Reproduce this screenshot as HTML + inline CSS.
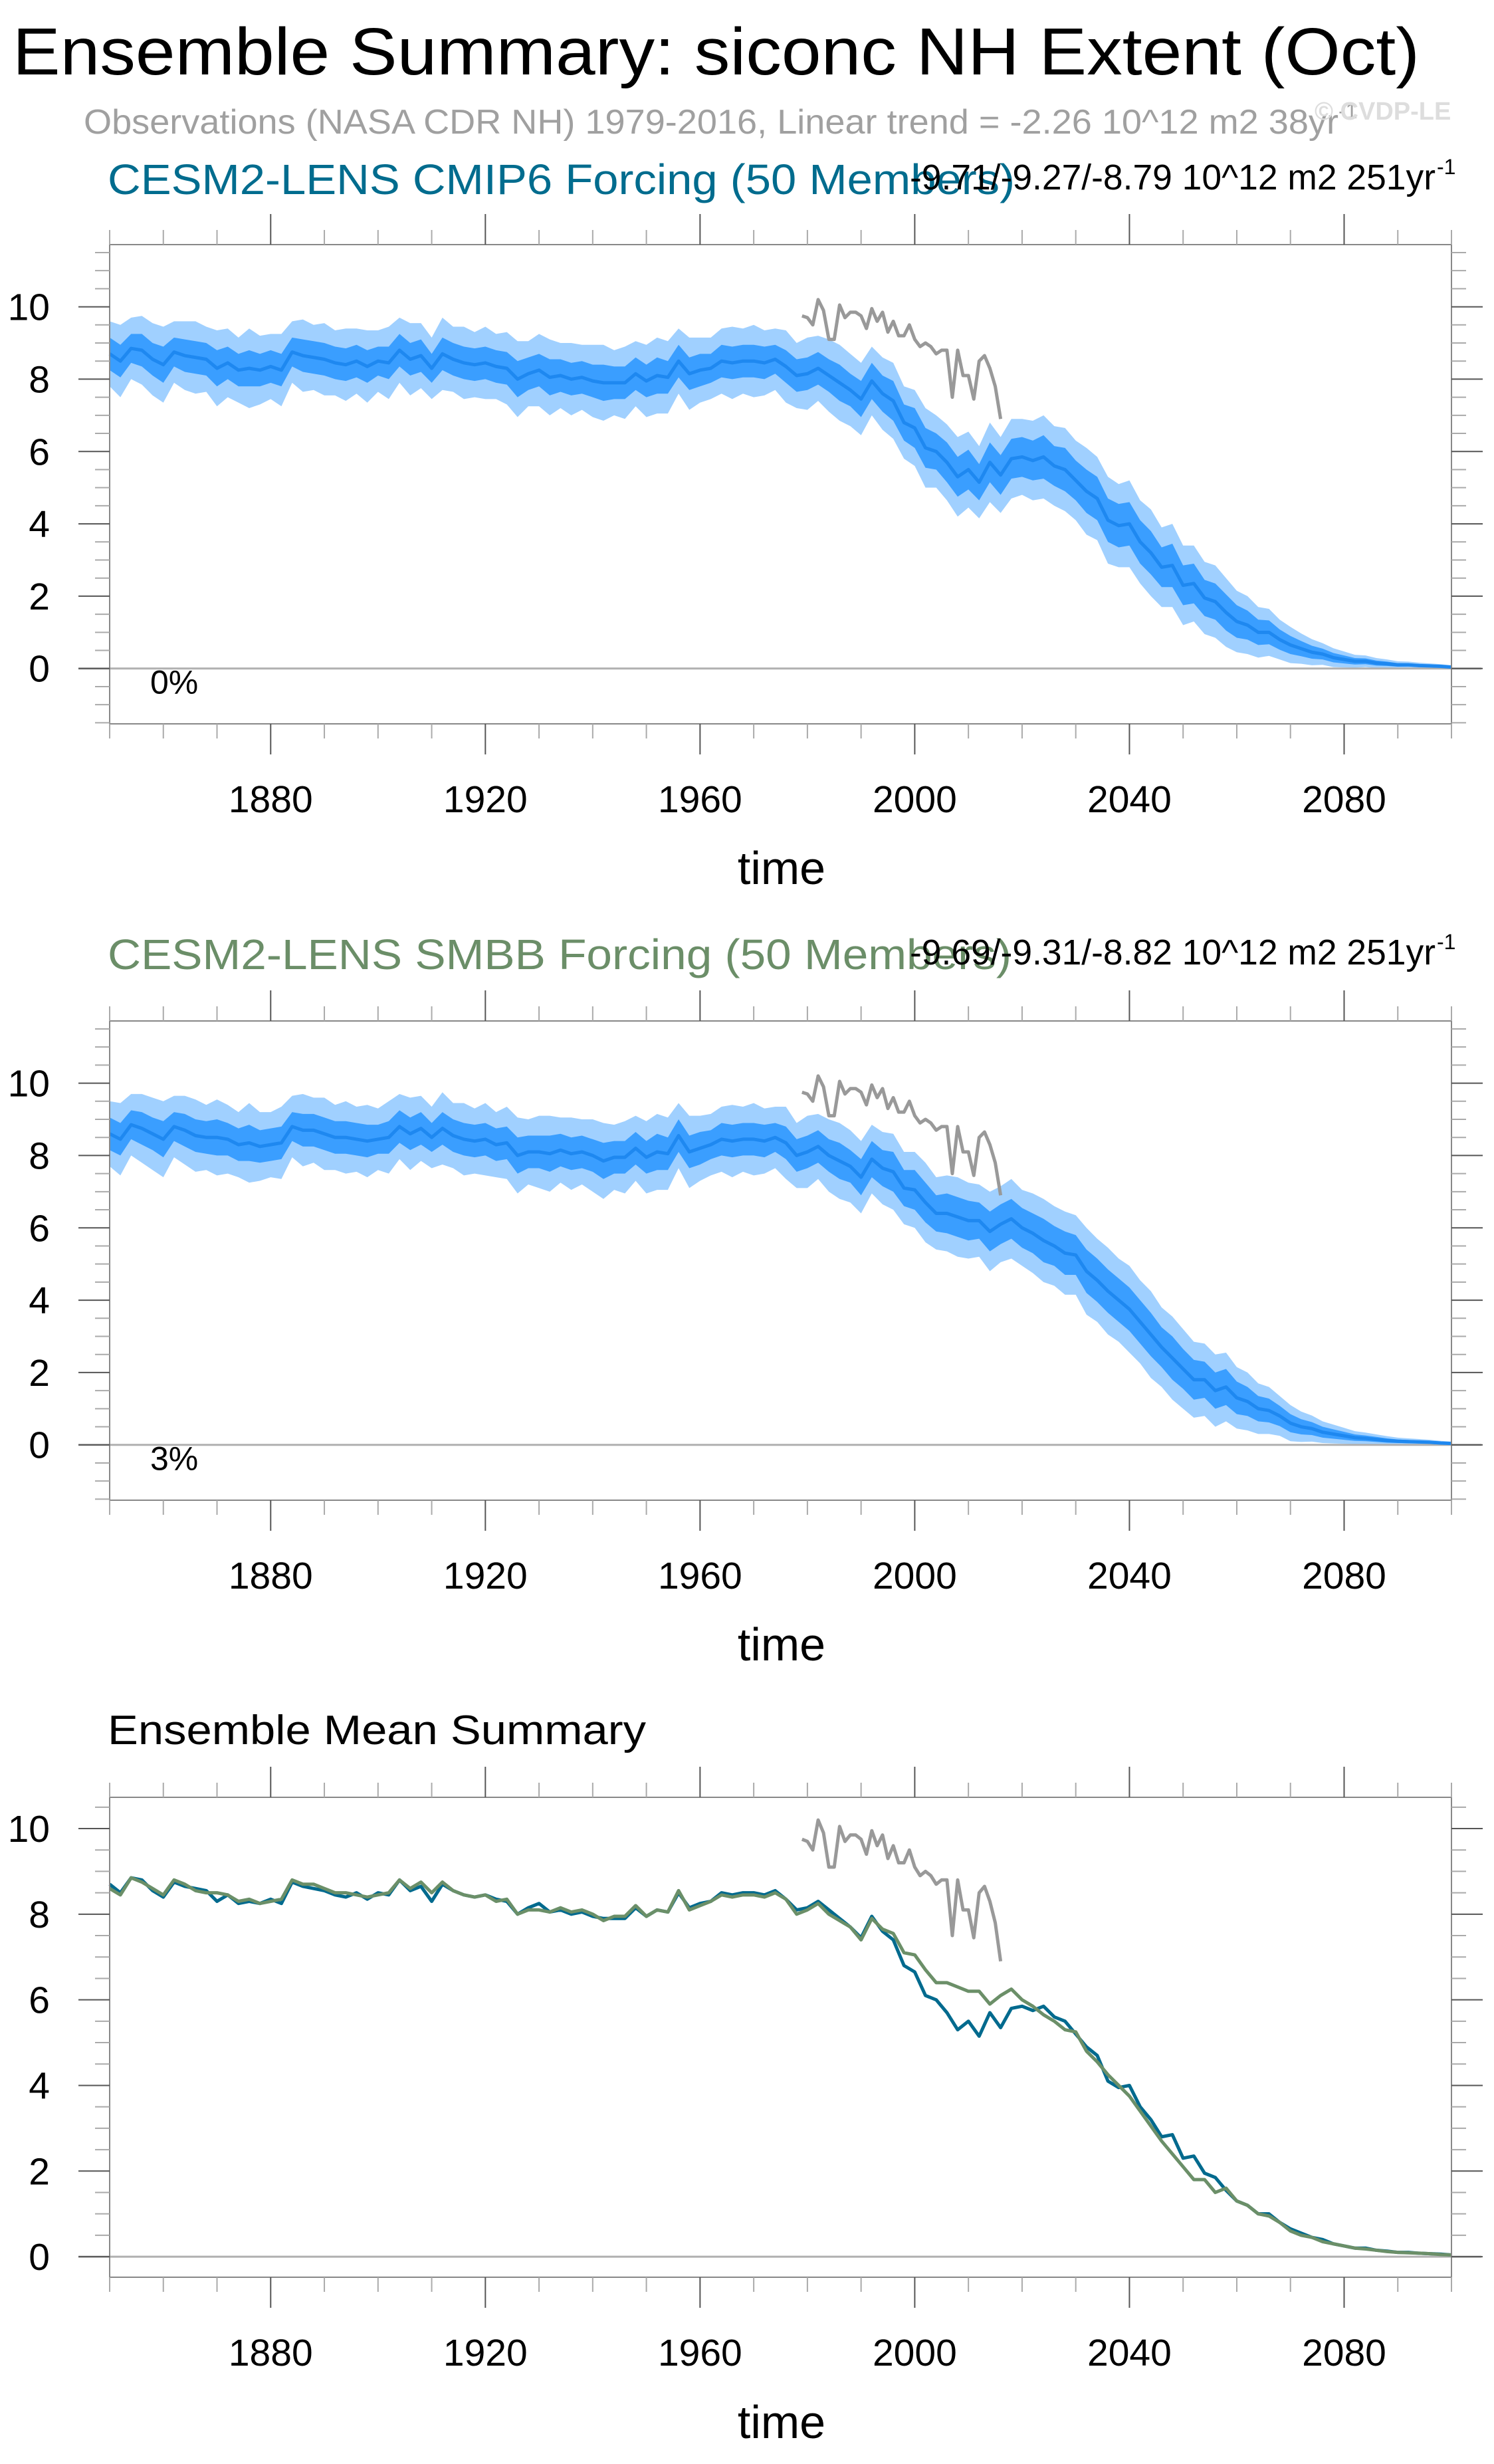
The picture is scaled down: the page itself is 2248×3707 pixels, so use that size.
<!DOCTYPE html>
<html><head><meta charset="utf-8"><title>Ensemble Summary</title>
<style>body{margin:0;background:#fff}svg{display:block}text{font-family:"Liberation Sans",Arial,sans-serif}</style>
</head><body>
<svg id="chart" xmlns="http://www.w3.org/2000/svg" width="2248" height="3707" viewBox="0 0 2248 3707">
<text x="19" y="112" font-size="100" textLength="2117" lengthAdjust="spacingAndGlyphs">Ensemble Summary: siconc NH Extent (Oct)</text>
<text x="126" y="201" font-size="52" fill="#a0a0a0" textLength="1888" lengthAdjust="spacingAndGlyphs">Observations (NASA CDR NH) 1979-2016, Linear trend = -2.26 10^12 m2 38yr</text>
<text x="2014" y="178" font-size="32" fill="#a0a0a0">-1</text>
<text x="1978" y="180" font-size="38" fill="#dddddd" font-weight="bold">© CVDP-LE</text>
<g id="panels"></g>
</svg>
<script>
// ---- data (every 2 years, 1850..2100) ----
const years = [];
for (let y = 1850; y <= 2100; y += 2) years.push(y);
const cmip6Mean = [8.7,8.5,8.85,8.8,8.55,8.4,8.75,8.65,8.6,8.55,8.3,8.45,8.25,8.3,8.25,8.35,8.25,8.75,8.65,8.6,8.55,8.45,8.4,8.5,8.35,8.5,8.45,8.8,8.55,8.65,8.3,8.7,8.55,8.45,8.4,8.45,8.35,8.3,8.0,8.15,8.25,8.05,8.1,8.0,8.05,7.95,7.9,7.9,7.9,8.15,7.95,8.1,8.05,8.5,8.15,8.25,8.3,8.5,8.45,8.5,8.5,8.45,8.55,8.35,8.1,8.15,8.3,8.1,7.9,7.7,7.45,7.95,7.6,7.4,6.8,6.65,6.1,6.0,5.7,5.3,5.5,5.15,5.7,5.35,5.8,5.85,5.75,5.85,5.6,5.5,5.2,4.9,4.7,4.1,3.95,4.0,3.5,3.2,2.8,2.85,2.3,2.35,1.95,1.85,1.55,1.3,1.2,1.0,1.0,0.8,0.65,0.55,0.45,0.4,0.3,0.25,0.2,0.2,0.15,0.13,0.1,0.1,0.08,0.07,0.06,0.04];
const smbbMean = [8.6,8.45,8.85,8.75,8.6,8.45,8.8,8.7,8.55,8.5,8.5,8.45,8.3,8.35,8.25,8.3,8.35,8.8,8.7,8.7,8.6,8.5,8.5,8.45,8.4,8.45,8.5,8.8,8.6,8.75,8.5,8.75,8.55,8.45,8.4,8.45,8.3,8.35,8.0,8.1,8.1,8.05,8.15,8.05,8.1,8.0,7.85,7.95,7.95,8.2,7.95,8.1,8.05,8.55,8.1,8.2,8.3,8.45,8.4,8.45,8.45,8.4,8.5,8.35,8.0,8.1,8.25,8.0,7.85,7.7,7.4,7.9,7.65,7.55,7.1,7.05,6.7,6.4,6.4,6.3,6.2,6.2,5.9,6.1,6.25,6.0,5.85,5.65,5.5,5.3,5.25,4.8,4.55,4.25,4.0,3.75,3.4,3.05,2.7,2.4,2.1,1.8,1.8,1.5,1.6,1.3,1.2,1.0,0.95,0.8,0.6,0.5,0.45,0.35,0.3,0.25,0.2,0.18,0.15,0.12,0.1,0.09,0.08,0.07,0.05,0.04];
const outerW = [0.9,1.0,0.85,0.95,1.0,1.05,0.85,0.95,1.0,0.9,1.05,0.95,0.9,1.1,0.95,0.9,1.0,0.85,1.0,0.9,1.0,0.9,1.0,0.9,1.0,0.85,1.0,0.9,1.0,0.9,0.85,1.0,0.9,1.0,0.9,1.0,0.9,1.0,1.05,0.9,1.0,1.05,0.9,1.0,0.9,1.0,1.05,0.9,1.0,0.9,1.0,1.05,1.0,0.9,1.0,0.9,0.85,0.9,1.0,0.9,1.0,0.9,0.85,1.0,0.9,1.0,0.9,1.0,1.05,1.0,1.0,0.95,1.0,1.05,1.0,1.05,1.1,1.0,1.05,1.1,1.05,1.0,1.1,1.05,1.1,1.05,1.1,1.15,1.1,1.15,1.1,1.2,1.15,1.2,1.15,1.2,1.15,1.2,1.1,1.15,1.1,1.05,1.0,1.0,0.95,0.85,0.8,0.7,0.65,0.55,0.5,0.42,0.36,0.3,0.26,0.22,0.18,0.16,0.14,0.12,0.1,0.09,0.08,0.07,0.06,0.05];
const innerW = [0.45,0.45,0.4,0.45,0.45,0.5,0.4,0.45,0.45,0.45,0.5,0.45,0.45,0.5,0.45,0.45,0.45,0.4,0.45,0.45,0.45,0.45,0.45,0.45,0.45,0.4,0.45,0.45,0.45,0.45,0.4,0.45,0.45,0.45,0.45,0.45,0.45,0.45,0.5,0.45,0.45,0.5,0.45,0.45,0.45,0.45,0.5,0.45,0.45,0.45,0.45,0.5,0.45,0.45,0.45,0.45,0.4,0.45,0.45,0.45,0.45,0.45,0.4,0.45,0.45,0.45,0.45,0.45,0.5,0.45,0.5,0.5,0.5,0.55,0.5,0.55,0.55,0.5,0.55,0.55,0.55,0.5,0.55,0.55,0.55,0.55,0.55,0.6,0.55,0.6,0.55,0.6,0.6,0.6,0.6,0.6,0.6,0.6,0.55,0.6,0.55,0.55,0.5,0.5,0.5,0.45,0.4,0.35,0.33,0.28,0.25,0.21,0.18,0.15,0.13,0.11,0.09,0.08,0.07,0.06,0.05,0.045,0.04,0.035,0.03,0.025];
const obsYears = [1979,1980,1981,1982,1983,1984,1985,1986,1987,1988,1989,1990,1991,1992,1993,1994,1995,1996,1997,1998,1999,2000,2001,2002,2003,2004,2005,2006,2007,2008,2009,2010,2011,2012,2013,2014,2015,2016];
const obsValues = [9.75,9.7,9.5,10.2,9.9,9.1,9.1,10.05,9.7,9.85,9.85,9.75,9.4,9.95,9.6,9.85,9.3,9.6,9.2,9.2,9.5,9.1,8.9,9.0,8.9,8.7,8.8,8.8,7.5,8.8,8.1,8.1,7.45,8.5,8.65,8.3,7.8,6.9];
const xTickLabels = ["1880","1920","1960","2000","2040","2080"];
const yTickLabels = ["0","2","4","6","8","10"];

const NS = "http://www.w3.org/2000/svg";
const root = document.getElementById('panels');
function mk(tag, attrs, parent) {
  const e = document.createElementNS(NS, tag);
  for (const k in attrs) e.setAttribute(k, attrs[k]);
  (parent || root).appendChild(e);
  return e;
}
const X0 = 165, X1 = 2184;
function xs(v) { return X0 + (v - 1850) / 250 * (X1 - X0); }

function panel(name, top, bottom, yMin, yMax, opts) {
  const g = mk('g', {});
  
  
  const ys = v => bottom - (v - yMin) / (yMax - yMin) * (bottom - top);
  if (opts.band) {
    const m = opts.band;
    let up = [], lo = [], iu = [], il = [];
    years.forEach((y, i) => {
      up.push(xs(y) + ',' + ys(m[i] + outerW[i]));
      lo.unshift(xs(y) + ',' + ys(Math.max(m[i] - outerW[i], 0.01)));
      iu.push(xs(y) + ',' + ys(m[i] + innerW[i]));
      il.unshift(xs(y) + ',' + ys(Math.max(m[i] - innerW[i], 0.015)));
    });
    const ob = mk('polygon', {points: up.concat(lo).join(' '), fill: '#a0d0ff'}, g);
    
    
    const ib = mk('polygon', {points: iu.concat(il).join(' '), fill: '#3a9eff'}, g);
    
    
  }
  const z = mk('line', {x1: 118, x2: 2229, y1: ys(0), y2: ys(0), stroke: '#b0b0b0', 'stroke-width': 3}, g);
  
  
  (opts.lines || []).forEach(L => {
    const pts = L.x.map((x, i) => xs(x) + ',' + ys(L.y[i])).join(' ');
    const pl = mk('polyline', {points: pts, fill: 'none', stroke: L.color, 'stroke-width': L.w, 'stroke-linejoin': 'round'}, g);
    
    
  });
  const fr = mk('rect', {x: X0, y: top, width: X1 - X0, height: bottom - top, fill: 'none', stroke: '#888', 'stroke-width': 2}, g);
  
  
  for (let yr = 1850; yr <= 2100; yr += 10) {
    const major = (yr - 1880) % 40 === 0;
    const len = major ? 46 : 22;
    const col = major ? '#555' : '#aaa';
    mk('line', {x1: xs(yr), x2: xs(yr), y1: top, y2: top - len, stroke: col, 'stroke-width': 2}, g);
    mk('line', {x1: xs(yr), x2: xs(yr), y1: bottom, y2: bottom + len, stroke: col, 'stroke-width': 2}, g);
  }
  xTickLabels.forEach(lab => {
    const t = mk('text', {x: xs(+lab), y: bottom + 133, 'font-size': 57, 'text-anchor': 'middle'}, g);
    t.textContent = lab;
    
    
  });
  for (let v = Math.ceil(yMin * 2) / 2; v <= yMax; v += 0.5) {
    const major = Math.abs(v % 2) < 1e-6 && v >= 0;
    const len = major ? 47 : 22;
    const col = major ? '#555' : '#aaa';
    mk('line', {x1: X0, x2: X0 - len, y1: ys(v), y2: ys(v), stroke: col, 'stroke-width': 2}, g);
    mk('line', {x1: X1, x2: X1 + len, y1: ys(v), y2: ys(v), stroke: col, 'stroke-width': 2}, g);
  }
  yTickLabels.forEach(lab => {
    const t = mk('text', {x: 75, y: ys(+lab) + 20, 'font-size': 57, 'text-anchor': 'end'}, g);
    t.textContent = lab;
    
    
  });
  const xt = mk('text', {x: 1176, y: opts.timeY, 'font-size': 70, 'text-anchor': 'middle'}, g);
  xt.textContent = 'time';
  
  
  if (opts.pct) {
    const p = mk('text', {x: 226, y: ys(0) + 38, 'font-size': 50}, g);
    p.textContent = opts.pct;
    
    
  }
  if (opts.title) {
    const t = mk('text', {x: 162, y: opts.titleY, 'font-size': 64, fill: opts.titleColor, textLength: opts.titleLen, lengthAdjust: 'spacingAndGlyphs'}, g);
    t.textContent = opts.title;
    
    
  }
  if (opts.trend) {
    const t = mk('text', {x: 1369, y: opts.titleY - 7, 'font-size': 54, textLength: 791, lengthAdjust: 'spacingAndGlyphs'}, g);
    t.textContent = opts.trend;
    
    
    const s = mk('text', {x: 2162, y: opts.titleY - 30, 'font-size': 32}, g);
    s.textContent = '-1';
    
    
  }
}
const obsLine = {name: 'observations-line', x: obsYears, y: obsValues, color: '#999999', w: 5};
panel('cmip6-panel', 368, 1089, -1.53, 11.72, {
  band: cmip6Mean,
  lines: [{name: 'cmip6-ensemble-mean', x: years, y: cmip6Mean, color: '#1e88f0', w: 5}, obsLine],
  timeY: 1330, pct: '0%', title: 'CESM2-LENS CMIP6 Forcing (50 Members)', titleColor: '#006c8e', titleY: 292, titleLen: 1365,
  trend: '-9.71/-9.27/-8.79 10^12 m2 251yr'
});
panel('smbb-panel', 1536, 2257, -1.53, 11.72, {
  band: smbbMean,
  lines: [{name: 'smbb-ensemble-mean', x: years, y: smbbMean, color: '#1e88f0', w: 5}, obsLine],
  timeY: 2498, pct: '3%', title: 'CESM2-LENS SMBB Forcing (50 Members)', titleColor: '#6b8e68', titleY: 1458, titleLen: 1360,
  trend: '-9.69/-9.31/-8.82 10^12 m2 251yr'
});
panel('mean-summary-panel', 2704, 3426, -0.48, 10.73, {
  lines: [obsLine,
    {name: 'cmip6-mean-line', x: years, y: cmip6Mean, color: '#006a8e', w: 5},
    {name: 'smbb-mean-line', x: years, y: smbbMean, color: '#6b8f68', w: 5}],
  timeY: 3668
});
const mt = mk('text', {x: 162, y: 2624, 'font-size': 62, textLength: 810, lengthAdjust: 'spacingAndGlyphs'});
mt.textContent = 'Ensemble Mean Summary';


</script>
</body></html>
